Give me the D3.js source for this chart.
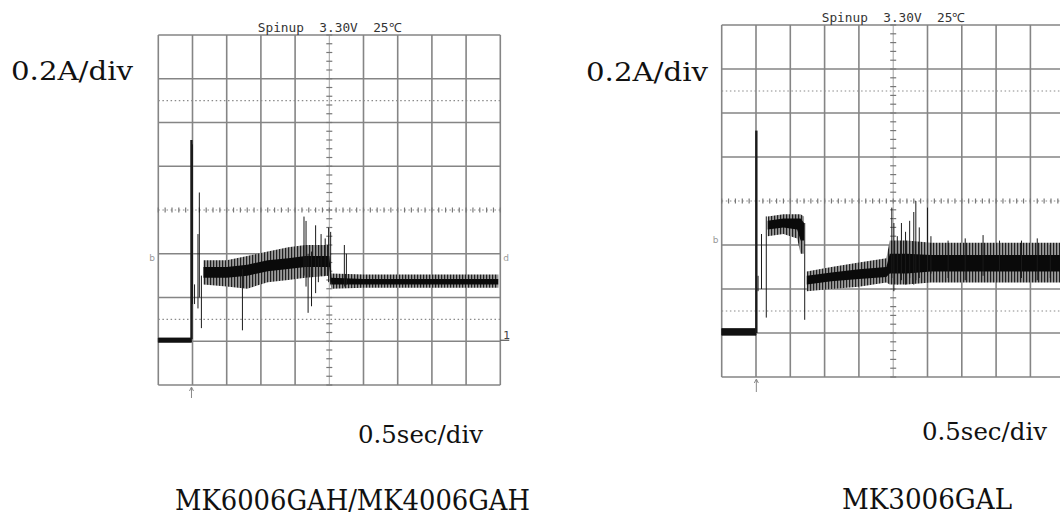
<!DOCTYPE html>
<html>
<head>
<meta charset="utf-8">
<script src="https://cdn.jsdelivr.net/npm/d3@7"></script>
<style>
    body { margin: 0; background: #fff; }
    svg { display: block; }
</style>
</head>
<body>
<svg id="chart" width="1060" height="516"></svg>
<script>
// scope settings: 10 x 8 divisions
const timeDomain = [0, 5];          // seconds, 0.5 sec/div
const ampDomain = [-0.2, 1.4];      // amps, 0.2 A/div
const timeStep = 0.5;
const ampStep = 0.2;
const dottedLevels = [1.1, 0.1];
const centerTime = 2.5;
const centerAmp = 0.6;

const ampLabel = "0.2A/div";
const timeLabel = "0.5sec/div";
const headerText = "Spinup  3.30V  25\u2103";
const modelNames = ["MK6006GAH/MK4006GAH", "MK3006GAL"];

// MK6006GAH / MK4006GAH trace
const leftIdleTime = [0, 0.485];
const leftIdleLow = [-0.005, -0.005];
const leftIdleHigh = [0.015, 0.015];

const leftBandTime = [0.66, 1.0, 1.3, 1.6, 1.9, 2.15, 2.5, 2.53, 3.0, 3.5, 4.0, 4.5, 4.97];
const leftOuterLow = [0.26, 0.25, 0.24, 0.27, 0.28, 0.29, 0.30, 0.24, 0.245, 0.245, 0.245, 0.245, 0.245];
const leftOuterHigh = [0.37, 0.37, 0.39, 0.41, 0.43, 0.44, 0.44, 0.31, 0.305, 0.305, 0.305, 0.305, 0.305];
const leftCoreLow = [0.29, 0.29, 0.30, 0.32, 0.33, 0.34, 0.34, 0.26, 0.26, 0.26, 0.26, 0.26, 0.26];
const leftCoreHigh = [0.34, 0.34, 0.35, 0.37, 0.38, 0.39, 0.39, 0.29, 0.285, 0.285, 0.285, 0.285, 0.285];

const leftSpikeTime = [0.485, 0.50, 0.53, 0.58, 0.60, 0.63, 1.23, 2.13, 2.16, 2.19, 2.24, 2.30, 2.34, 2.38, 2.44, 2.49, 2.52, 2.72, 2.75];
const leftSpikeLow = [0.01, 0.17, 0.17, 0.15, 0.20, 0.06, 0.05, 0.30, 0.25, 0.13, 0.16, 0.22, 0.27, 0.30, 0.30, 0.27, 0.26, 0.25, 0.26];
const leftSpikeHigh = [0.92, 0.90, 0.26, 0.49, 0.68, 0.30, 0.33, 0.57, 0.55, 0.40, 0.41, 0.53, 0.38, 0.49, 0.47, 0.52, 0.50, 0.44, 0.40];

// MK3006GAL trace (null = gap in the band)
const rightIdleTime = [0, 0.5];
const rightIdleLow = [-0.01, -0.01];
const rightIdleHigh = [0.02, 0.02];

const rightBandTime = [0.67, 0.9, 1.1, 1.15, 1.2, 1.22, 1.24, 1.6, 2.0, 2.4, 2.45, 2.7, 3.05, 3.5, 4.0, 4.5, 5.0];
const rightOuterLow = [0.44, 0.45, 0.43, 0.36, 0.36, null, 0.19, 0.20, 0.21, 0.23, 0.22, 0.22, 0.23, 0.23, 0.23, 0.23, 0.23];
const rightOuterHigh = [0.53, 0.54, 0.54, 0.54, 0.53, null, 0.28, 0.30, 0.32, 0.34, 0.42, 0.42, 0.41, 0.41, 0.41, 0.41, 0.41];
const rightCoreLow = [0.47, 0.48, 0.47, 0.42, 0.42, null, 0.22, 0.235, 0.245, 0.255, 0.27, 0.27, 0.28, 0.28, 0.28, 0.28, 0.28];
const rightCoreHigh = [0.51, 0.52, 0.52, 0.52, 0.50, null, 0.26, 0.275, 0.29, 0.30, 0.36, 0.36, 0.355, 0.355, 0.355, 0.355, 0.355];

const rightSpikeTime = [0.505, 0.53, 0.58, 0.65, 1.21, 2.48, 2.51, 2.56, 2.62, 2.68, 2.74, 2.80, 2.83, 2.88, 3.0, 3.05, 3.3, 3.55, 3.81, 4.05, 4.37, 4.6, 4.79];
const rightSpikeLow = [0.0, 0.19, 0.20, 0.07, 0.06, 0.25, 0.19, 0.22, 0.24, 0.22, 0.25, 0.22, 0.24, 0.25, 0.26, 0.27, 0.25, 0.24, 0.26, 0.24, 0.25, 0.24, 0.25];
const rightSpikeHigh = [0.92, 0.26, 0.45, 0.53, 0.50, 0.57, 0.50, 0.44, 0.50, 0.46, 0.51, 0.55, 0.60, 0.48, 0.57, 0.44, 0.42, 0.43, 0.445, 0.42, 0.42, 0.43, 0.40];

const svg = d3.select("#chart");

// striped fill so the noise band reads like the scope's scribble
const pat = svg.append("defs").append("pattern")
    .attr("id", "scribble")
    .attr("width", 3).attr("height", 5)
    .attr("patternUnits", "userSpaceOnUse");
pat.append("rect").attr("width", 3).attr("height", 5).attr("fill", "#9a9a9a");
pat.append("rect").attr("x", 0).attr("width", 1.2).attr("height", 5).attr("fill", "#202020");

function rows(time, low, high) {
    return time.map((t, i) => ({ t: t, lo: low[i], hi: high[i] }));
}

function drawPanel(p) {
    const x = d3.scaleLinear().domain(timeDomain).range(p.xRange);
    const y = d3.scaleLinear().domain(ampDomain).range(p.yRange);
    const g = svg.append("g");

    // grid
    const vLines = d3.range(timeDomain[0], timeDomain[1] + 0.001, timeStep).filter(t => Math.abs(t - centerTime) > 0.01);
    const hLines = d3.range(ampDomain[0], ampDomain[1] + 0.001, ampStep).filter(a => Math.abs(a - centerAmp) > 0.01);

    g.selectAll(".vgrid").data(vLines).enter().append("line")
        .attr("x1", d => x(d)).attr("x2", d => x(d))
        .attr("y1", y(ampDomain[0])).attr("y2", y(ampDomain[1]))
        .attr("stroke", "#858585").attr("stroke-width", 1.6);

    g.selectAll(".hgrid").data(hLines).enter().append("line")
        .attr("x1", x(timeDomain[0])).attr("x2", x(timeDomain[1]))
        .attr("y1", d => y(d)).attr("y2", d => y(d))
        .attr("stroke", "#858585").attr("stroke-width", 1.6);

    g.selectAll(".dotted").data(dottedLevels.concat([centerAmp])).enter().append("line")
        .attr("x1", x(timeDomain[0])).attr("x2", x(timeDomain[1]))
        .attr("y1", d => y(d)).attr("y2", d => y(d))
        .attr("stroke", "#8a8a8a").attr("stroke-width", 1.2)
        .attr("stroke-dasharray", "1.5,2.6");

    // center cross with minor ticks
    g.append("line")
        .attr("x1", x(centerTime)).attr("x2", x(centerTime))
        .attr("y1", y(ampDomain[0])).attr("y2", y(ampDomain[1]))
        .attr("stroke", "#999").attr("stroke-width", 0.9);

    const ampMinor = d3.range(ampDomain[0], ampDomain[1] + 0.001, ampStep / 5);
    g.selectAll(".vtick").data(ampMinor).enter().append("line")
        .attr("x1", x(centerTime) - 3).attr("x2", x(centerTime) + 3)
        .attr("y1", d => y(d)).attr("y2", d => y(d))
        .attr("stroke", "#777").attr("stroke-width", 1.2);

    const timeMinor = d3.range(timeDomain[0], timeDomain[1] + 0.001, timeStep / 5);
    g.selectAll(".htick").data(timeMinor).enter().append("line")
        .attr("x1", d => x(d)).attr("x2", d => x(d))
        .attr("y1", y(centerAmp) - 2.5).attr("y2", y(centerAmp) + 2.5)
        .attr("stroke", "#777").attr("stroke-width", 1.2);

    // trace
    const band = d3.area()
        .defined(d => d.lo !== null)
        .x(d => x(d.t)).y0(d => y(d.lo)).y1(d => y(d.hi));

    g.append("path").datum(rows(p.idleTime, p.idleLow, p.idleHigh))
        .attr("d", band).attr("fill", "#111").attr("stroke", "#111").attr("stroke-width", 0.8);

    g.append("path").datum(rows(p.bandTime, p.outerLow, p.outerHigh))
        .attr("d", band).attr("fill", "url(#scribble)");

    g.append("path").datum(rows(p.bandTime, p.coreLow, p.coreHigh))
        .attr("d", band).attr("fill", "#0a0a0a");

    g.selectAll(".spike").data(rows(p.spikeTime, p.spikeLow, p.spikeHigh)).enter().append("line")
        .attr("x1", d => x(d.t)).attr("x2", d => x(d.t))
        .attr("y1", d => y(d.lo)).attr("y2", d => y(d.hi))
        .attr("stroke", "#1a1a1a")
        .attr("stroke-width", (d, i) => i === 0 ? 2.4 : 1);

    // trigger arrow
    const ax = x(p.spikeTime[0]);
    const ay = y(ampDomain[0]);
    g.append("path")
        .attr("d", `M${ax},${ay + p.arrowLen} V${ay + 3} M${ax - 2},${ay + 6} L${ax},${ay + 2} L${ax + 2},${ay + 6}`)
        .attr("fill", "none").attr("stroke", "#888").attr("stroke-width", 1);

    // edge markers
    g.append("text").attr("x", x(timeDomain[0]) - 9).attr("y", p.markerY)
        .attr("font-family", "DejaVu Sans").attr("font-size", 9).attr("fill", "#999").text("b");
    if (p.rightMarks) {
        g.append("text").attr("x", x(timeDomain[1]) + 3).attr("y", p.markerY)
            .attr("font-family", "DejaVu Sans").attr("font-size", 9).attr("fill", "#999").text("d");
        g.append("text").attr("x", x(timeDomain[1]) + 3).attr("y", y(0) - 2)
            .attr("font-family", "DejaVu Sans").attr("font-size", 11).attr("fill", "#444").text("1");
        g.append("line")
            .attr("x1", x(timeDomain[1])).attr("x2", x(timeDomain[1]) + 9)
            .attr("y1", y(0) - 1).attr("y2", y(0) - 1)
            .attr("stroke", "#555").attr("stroke-width", 1.2);
    }

    // texts
    g.append("text")
        .attr("x", x(centerTime)).attr("y", p.headerY)
        .attr("text-anchor", "middle")
        .attr("font-family", "DejaVu Sans Mono").attr("font-size", 12.5)
        .attr("fill", "#333")
        .style("white-space", "pre")
        .attr("textLength", 143).attr("lengthAdjust", "spacingAndGlyphs")
        .text(headerText);

    const serif = "DejaVu Serif";
    g.append("text").attr("x", p.ampPos[0]).attr("y", p.ampPos[1])
        .attr("font-family", serif).attr("font-size", 26).attr("fill", "#111")
        .attr("textLength", 122).attr("lengthAdjust", "spacingAndGlyphs")
        .text(ampLabel);
    g.append("text").attr("x", p.timePos[0]).attr("y", p.timePos[1])
        .attr("font-family", serif).attr("font-size", 25).attr("fill", "#111")
        .attr("textLength", 125).attr("lengthAdjust", "spacingAndGlyphs")
        .text(timeLabel);
    g.append("text").attr("x", p.modelPos[0]).attr("y", p.modelPos[1])
        .attr("font-family", serif).attr("font-size", 27).attr("fill", "#111")
        .attr("textLength", p.modelWidth).attr("lengthAdjust", "spacingAndGlyphs")
        .text(p.model);
}

drawPanel({
    xRange: [158.3, 500.3], yRange: [385, 35],
    idleTime: leftIdleTime, idleLow: leftIdleLow, idleHigh: leftIdleHigh,
    bandTime: leftBandTime, outerLow: leftOuterLow, outerHigh: leftOuterHigh,
    coreLow: leftCoreLow, coreHigh: leftCoreHigh,
    spikeTime: leftSpikeTime, spikeLow: leftSpikeLow, spikeHigh: leftSpikeHigh,
    headerY: 31.5, markerY: 261, arrowLen: 13, rightMarks: true,
    ampPos: [11, 80], timePos: [358, 443],
    model: modelNames[0], modelPos: [175, 510], modelWidth: 355
});

drawPanel({
    xRange: [721.7, 1064.7], yRange: [377, 25],
    idleTime: rightIdleTime, idleLow: rightIdleLow, idleHigh: rightIdleHigh,
    bandTime: rightBandTime, outerLow: rightOuterLow, outerHigh: rightOuterHigh,
    coreLow: rightCoreLow, coreHigh: rightCoreHigh,
    spikeTime: rightSpikeTime, spikeLow: rightSpikeLow, spikeHigh: rightSpikeHigh,
    headerY: 21.5, markerY: 243, arrowLen: 15, rightMarks: false,
    ampPos: [586, 81], timePos: [922, 440],
    model: modelNames[1], modelPos: [842, 509], modelWidth: 170
});
</script>
</body>
</html>
